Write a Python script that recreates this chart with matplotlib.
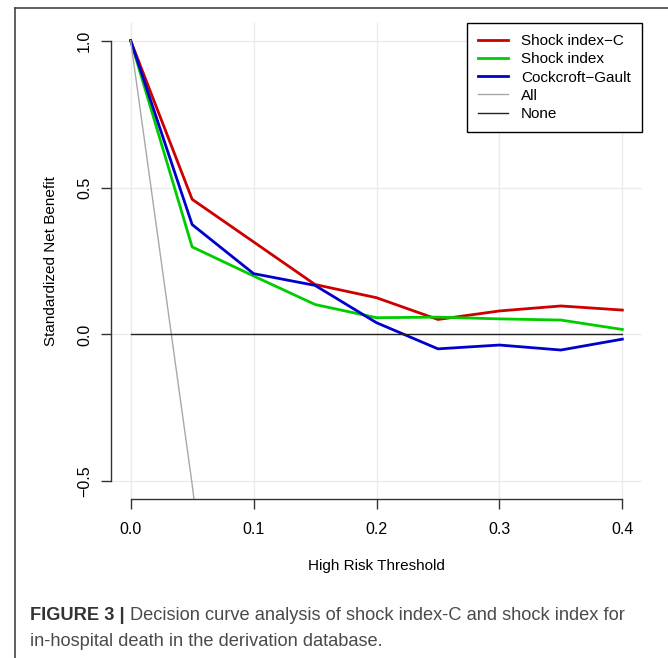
import numpy as np
import matplotlib
matplotlib.use("Agg")
from matplotlib import pyplot as plt

plt.rcParams["font.family"] = ["Liberation Sans", "DejaVu Sans"]

# decision curve data
thresholds = [0.0, 0.05, 0.10, 0.15, 0.20, 0.25, 0.30, 0.35, 0.40]
shock_index_c = [1.0, 0.460, 0.315, 0.170, 0.125, 0.051, 0.080, 0.097, 0.083]
shock_index = [1.0, 0.298, 0.199, 0.102, 0.057, 0.059, 0.053, 0.049, 0.017]
cockcroft_gault = [1.0, 0.374, 0.207, 0.167, 0.040, -0.049, -0.036, -0.053, -0.016]
treat_all = [1.0, -0.51, -2.19, -4.06, -6.18, -8.57, -11.3, -14.5, -18.1]
treat_none = [0.0, 0.0, 0.0, 0.0, 0.0, 0.0, 0.0, 0.0, 0.0]

series_names = ["Shock index\u2212C", "Shock index", "Cockcroft\u2212Gault", "All", "None"]
xticks = [0.0, 0.1, 0.2, 0.3, 0.4]
yticks = [-0.5, 0.0, 0.5, 1.0]

W, H = 668, 658
fig = plt.figure(figsize=(W / 100, H / 100), dpi=100)

# outer figure frame (left and top edges)
fig.add_artist(plt.Line2D([15 / W, 15 / W], [0, 1 - 8 / H], color="#444444", lw=1.2))
fig.add_artist(plt.Line2D([15 / W, 1], [1 - 8 / H, 1 - 8 / H], color="#444444", lw=1.2))

ax = fig.add_axes([111 / W, (H - 499) / H, 531 / W, 476 / H])
ax.set_xlim(-0.016, 0.416)
ax.set_ylim(-0.56, 1.06)

for x in xticks:
    ax.axvline(x, color="#ebebeb", lw=1, zorder=0)
for y in yticks:
    ax.axhline(y, color="#ebebeb", lw=1, zorder=0)

ax.plot(thresholds, shock_index_c, color="#cd0000", lw=2, label=series_names[0])
ax.plot(thresholds, shock_index, color="#00cd00", lw=2, label=series_names[1])
ax.plot(thresholds, cockcroft_gault, color="#0000cd", lw=2, label=series_names[2])
ax.plot(thresholds, treat_all, color="#a8a8a8", lw=1, label=series_names[3])
ax.plot(thresholds, treat_none, color="#222222", lw=1, label=series_names[4])

for side in ["top", "right"]:
    ax.spines[side].set_visible(False)
ax.spines["left"].set_bounds(-0.5, 1.0)
ax.spines["bottom"].set_bounds(0.0, 0.4)
for side in ["left", "bottom"]:
    ax.spines[side].set_color("#333333")
    ax.spines[side].set_linewidth(1)

ax.set_xticks(xticks)
ax.set_xticklabels(["%.1f" % v for v in xticks])
ax.set_yticks(yticks)
ax.set_yticklabels(["\u22120.5", "0.0", "0.5", "1.0"], rotation=90, va="center")
ax.tick_params(direction="out", length=7.5, width=1, color="#333333",
               labelsize=11.5, pad=6)
ax.tick_params(axis="x", pad=9)

ax.set_xlabel("High Risk Threshold", fontsize=11, labelpad=16)
ax.set_ylabel("Standardized Net Benefit", fontsize=11, labelpad=14)

leg = ax.legend(loc="upper right", bbox_to_anchor=(1.0, 1.0), borderaxespad=0,
                fancybox=False, framealpha=1, edgecolor="black", fontsize=11,
                handlelength=1.9, labelspacing=0.28, borderpad=0.72,
                handletextpad=0.9)
leg.get_frame().set_linewidth(1)

# caption, sized so the first line spans the same width as the original
renderer = fig.canvas.get_renderer()
cap_size = 13
y1, y2 = 1 - 615 / H, 1 - 641 / H
head = fig.text(30 / W, y1, "FIGURE 3 | ", fontsize=cap_size, fontweight="bold",
                color="#333333", va="center")
body = fig.text(0, y1, "Decision curve analysis of shock index-C and shock index for",
                fontsize=cap_size, color="#4a4a4a", va="center")
line2 = fig.text(30 / W, y2, "in-hospital death in the derivation database.",
                 fontsize=cap_size, color="#4a4a4a", va="center")
total = head.get_window_extent(renderer).width + body.get_window_extent(renderer).width
scale = 593 / total
for t in (head, body, line2):
    t.set_fontsize(cap_size * scale)
head_w = head.get_window_extent(renderer).width
body.set_x((30 + head_w) / W)

fig.savefig("out.png", dpi=100)
